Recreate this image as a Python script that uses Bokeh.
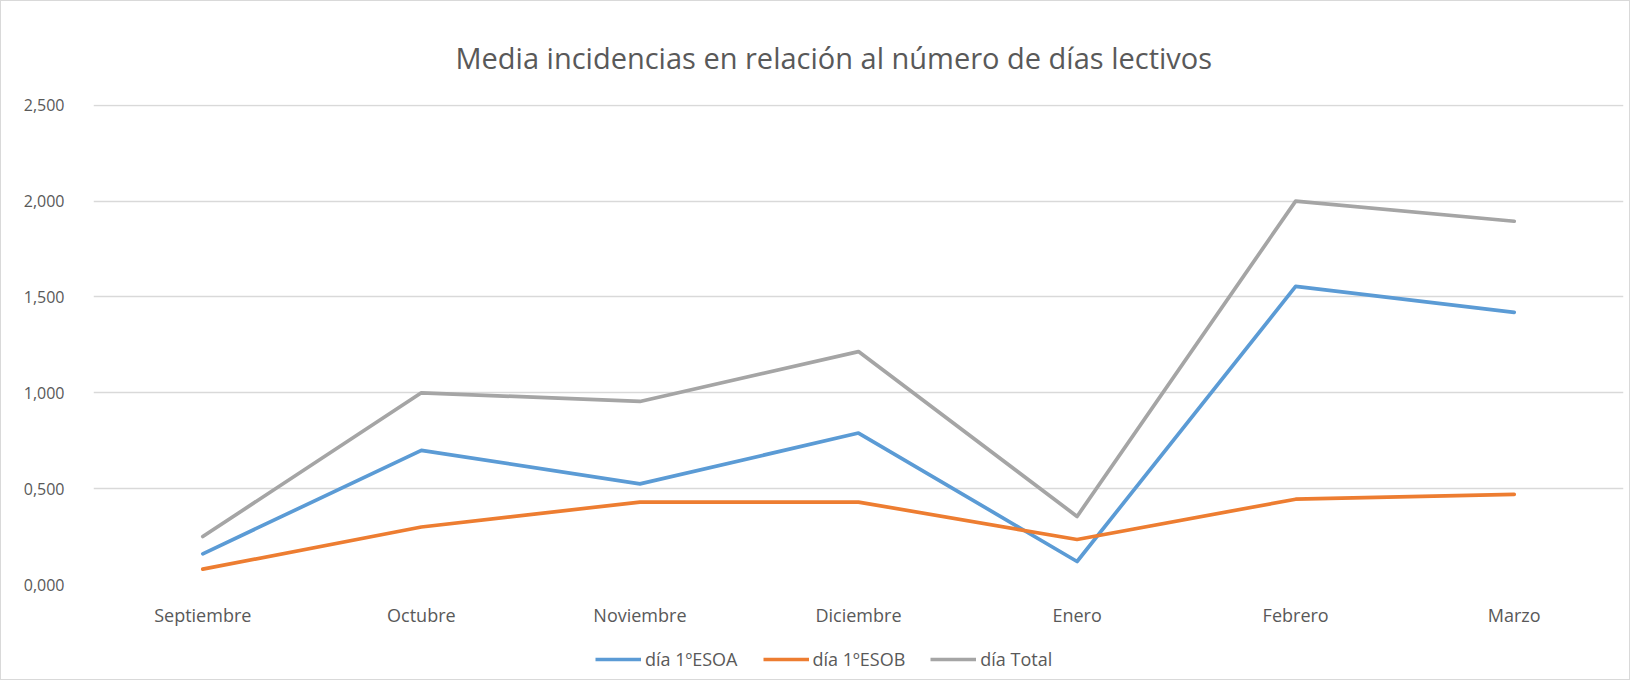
from bokeh.plotting import figure
from bokeh.layouts import column
from bokeh.models import FixedTicker, Legend, LegendItem
from bokeh.embed import file_html
from bokeh.resources import INLINE

months = ["Septiembre", "Octubre", "Noviembre", "Diciembre", "Enero", "Febrero", "Marzo"]
dia_1esoa = [0.16, 0.70, 0.525, 0.79, 0.12, 1.555, 1.42]
dia_1esob = [0.08, 0.30, 0.43, 0.43, 0.235, 0.445, 0.47]
dia_total = [0.25, 1.00, 0.955, 1.215, 0.355, 2.00, 1.895]
series_names = ["día 1ºESOA", "día 1ºESOB", "día Total"]
y_ticks = [0.0, 0.5, 1.0, 1.5, 2.0, 2.5]
y_tick_labels = ["0,000", "0,500", "1,000", "1,500", "2,000", "2,500"]

FONT = "Open Sans"
TXT = "#595959"
colors = ["#5b9bd5", "#ed7d31", "#a5a5a5"]
series = [dia_1esoa, dia_1esob, dia_total]

p = figure(x_range=months, y_range=(0, 2.504), width=1628, height=633,
           output_backend="svg", toolbar_location=None,
           title="Media incidencias en relación al número de días lectivos",
           min_border_left=92, min_border_right=6, min_border_top=103, min_border_bottom=50)
p.outline_line_color = None
p.background_fill_color = "white"
p.border_fill_color = "white"

p.title.align = "left"
p.title.offset = 362
p.title.text_font = FONT
p.title.text_font_style = "normal"
p.title.text_font_size = "29px"
p.title.text_color = TXT
p.title.standoff = 56

p.xgrid.grid_line_color = None
p.ygrid.grid_line_color = "#d9d9d9"
p.ygrid.grid_line_width = 1.3

p.yaxis.ticker = FixedTicker(ticks=y_ticks)
p.yaxis.major_label_overrides = {t: l for t, l in zip(y_ticks, y_tick_labels)}
for ax in (p.xaxis, p.yaxis):
    ax.axis_line_color = None
    ax.major_tick_line_color = None
    ax.minor_tick_line_color = None
    ax.major_label_text_font = FONT
    ax.major_label_text_color = TXT
    ax.major_label_text_font_size = "18px"
p.yaxis.major_label_text_font_size = "16px"
p.yaxis.major_label_standoff = 23
p.xaxis.major_label_standoff = 12

for vals, c in zip(series, colors):
    p.line(months, vals, line_color=c, line_width=3.7, line_join="round", line_cap="round")

# legend strip below the chart (series drawn out of view, only the legend shows)
pl = figure(width=1628, height=45, output_backend="svg", toolbar_location=None,
            x_axis_type=None, y_axis_type=None, x_range=months, y_range=(-10, -9), min_border=0)
pl.outline_line_color = None
pl.grid.visible = False
pl.background_fill_color = "white"
pl.border_fill_color = "white"
legend_renderers = [pl.line(months, vals, line_color=c, line_width=3.7) for vals, c in zip(series, colors)]

legend = Legend(items=[LegendItem(label=n, renderers=[r]) for n, r in zip(series_names, legend_renderers)],
                orientation="horizontal", location=(502, 8))
legend.label_text_font = FONT
legend.label_text_font_size = "18px"
legend.label_text_color = TXT
legend.glyph_width = 46
legend.glyph_height = 20
legend.label_standoff = 4
legend.spacing = 25
legend.border_line_color = None
legend.background_fill_alpha = 0
legend.padding = 0
legend.margin = 0
pl.add_layout(legend, "center")

layout = column(p, pl, spacing=0)
layout.styles = {"border": "1px solid #d9d9d9"}

open("out.html", "w").write(file_html(layout, INLINE))
